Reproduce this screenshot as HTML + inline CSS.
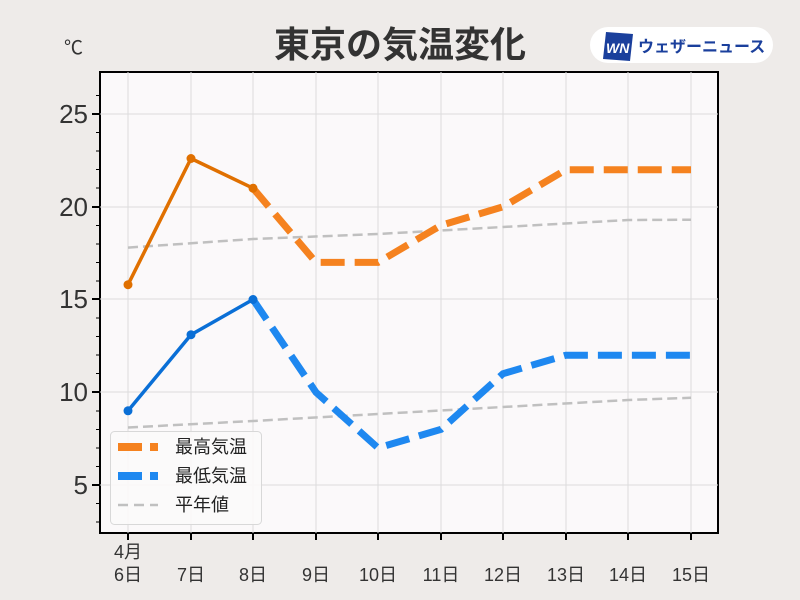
<!DOCTYPE html>
<html><head><meta charset="utf-8"><style>
html,body{margin:0;padding:0;background:#eeebe9;overflow:hidden;width:800px;height:600px;}
svg{display:block;}
text{font-family:"Liberation Sans","Noto Sans CJK JP",sans-serif;}
</style></head><body>
<svg width="800" height="600" xmlns="http://www.w3.org/2000/svg">
<rect width="800" height="600" fill="#eeebe9"/>
<text x="400" y="57" text-anchor="middle" font-size="36" font-weight="bold" fill="#333">東京の気温変化</text>
<text x="64" y="54" font-size="19" fill="#333">℃</text>
<rect x="590" y="27" width="183" height="36" rx="18" fill="#fff"/>
<polygon points="606,32 633,34 630,61 603,59" fill="#1a3f9c"/>
<text x="606" y="53" font-size="14" font-weight="bold" font-style="italic" fill="#fff">WN</text>
<text x="638" y="52" font-size="16" font-weight="bold" fill="#1a3f9c">ウェザーニュース</text>
<rect x="100" y="72" width="618" height="461" fill="#fbf9fa" stroke="#000" stroke-width="2"/>
<g stroke="#dcdcdc" stroke-width="1">
<line x1="100" y1="114" x2="718" y2="114"/><line x1="100" y1="207" x2="718" y2="207"/><line x1="100" y1="299" x2="718" y2="299"/><line x1="100" y1="392" x2="718" y2="392"/><line x1="100" y1="485" x2="718" y2="485"/>
<line x1="128" y1="72" x2="128" y2="533"/><line x1="191" y1="72" x2="191" y2="533"/><line x1="253" y1="72" x2="253" y2="533"/><line x1="316" y1="72" x2="316" y2="533"/><line x1="378" y1="72" x2="378" y2="533"/><line x1="441" y1="72" x2="441" y2="533"/><line x1="503" y1="72" x2="503" y2="533"/><line x1="566" y1="72" x2="566" y2="533"/><line x1="628" y1="72" x2="628" y2="533"/><line x1="691" y1="72" x2="691" y2="533"/>
</g>
<g stroke="#000" stroke-width="2">
<line x1="92" y1="114" x2="100" y2="114"/><line x1="92" y1="207" x2="100" y2="207"/><line x1="92" y1="299" x2="100" y2="299"/><line x1="92" y1="392" x2="100" y2="392"/><line x1="92" y1="485" x2="100" y2="485"/>
</g>
<g stroke="#000" stroke-width="1">
<path d="M96 95.5h4M96 132.5h4M96 151h4M96 169.5h4M96 188h4M96 225.5h4M96 244h4M96 262.5h4M96 281h4M96 318h4M96 336.5h4M96 355h4M96 373.5h4M96 411h4M96 429.5h4M96 448h4M96 466.5h4M96 503.5h4M96 522h4"/>
</g>
<g stroke="#000" stroke-width="2">
<path d="M128 533v7M191 533v7M253 533v7M316 533v7M378 533v7M441 533v7M503 533v7M566 533v7M628 533v7M691 533v7"/>
</g>
<g font-size="26" fill="#333" text-anchor="end">
<text x="88" y="123">25</text><text x="88" y="216">20</text><text x="88" y="308">15</text><text x="88" y="401">10</text><text x="88" y="494">5</text>
</g>
<g font-size="18" fill="#333" text-anchor="middle">
<text x="128" y="558">4月</text>
<text x="128" y="581">6日</text><text x="191" y="581">7日</text><text x="253" y="581">8日</text><text x="316" y="581">9日</text><text x="378" y="581">10日</text><text x="441" y="581">11日</text><text x="503" y="581">12日</text><text x="566" y="581">13日</text><text x="628" y="581">14日</text><text x="691" y="581">15日</text>
</g>
<g fill="none" stroke="#c0c0c0" stroke-width="2.5" stroke-dasharray="10,5">
<polyline points="128,247.6 253,239 378,234 503,227 628,220 691,219.7"/>
<polyline points="128,427.5 253,421 378,414 503,407 628,400 691,397.8"/>
</g>
<polyline points="253,188.2 316,262.4 378,262.4 441,225.3 503,206.8 566,169.7 628,169.7 691,169.7" fill="none" stroke="#f5821f" stroke-width="7" stroke-dasharray="24,10"/>
<polyline points="253,299.5 316,392.3 378,447.9 441,429.4 503,373.7 566,355.2 628,355.2 691,355.2" fill="none" stroke="#1e88f0" stroke-width="7" stroke-dasharray="24,10"/>
<polyline points="128,284.7 191,158.5 253,188.2" fill="none" stroke="#e07000" stroke-width="3.5"/>
<polyline points="128,410.8 191,334.7 253,299.5" fill="none" stroke="#0a6fd6" stroke-width="3.5"/>
<g fill="#e07000"><circle cx="128" cy="284.7" r="4.5"/><circle cx="191" cy="158.5" r="4.5"/><circle cx="253" cy="188.2" r="4.5"/></g>
<g fill="#0a6fd6"><circle cx="128" cy="410.8" r="4.5"/><circle cx="191" cy="334.7" r="4.5"/><circle cx="253" cy="299.5" r="4.5"/></g>
<rect x="110.5" y="431.5" width="151" height="93" rx="4" fill="#fbf9fa" fill-opacity="0.9" stroke="#d8d8d8"/>
<rect x="118" y="443" width="24" height="8" fill="#f5821f"/><rect x="150" y="443" width="8" height="8" fill="#f5821f"/>
<rect x="118" y="472" width="24" height="8" fill="#1e88f0"/><rect x="150" y="472" width="8" height="8" fill="#1e88f0"/>
<path d="M118 505h10M134 505h10M150 505h8" stroke="#c0c0c0" stroke-width="2.5"/>
<g font-size="18" fill="#222">
<text x="175" y="453">最高気温</text><text x="175" y="482">最低気温</text><text x="175" y="511">平年値</text>
</g>
</svg>
</body></html>
